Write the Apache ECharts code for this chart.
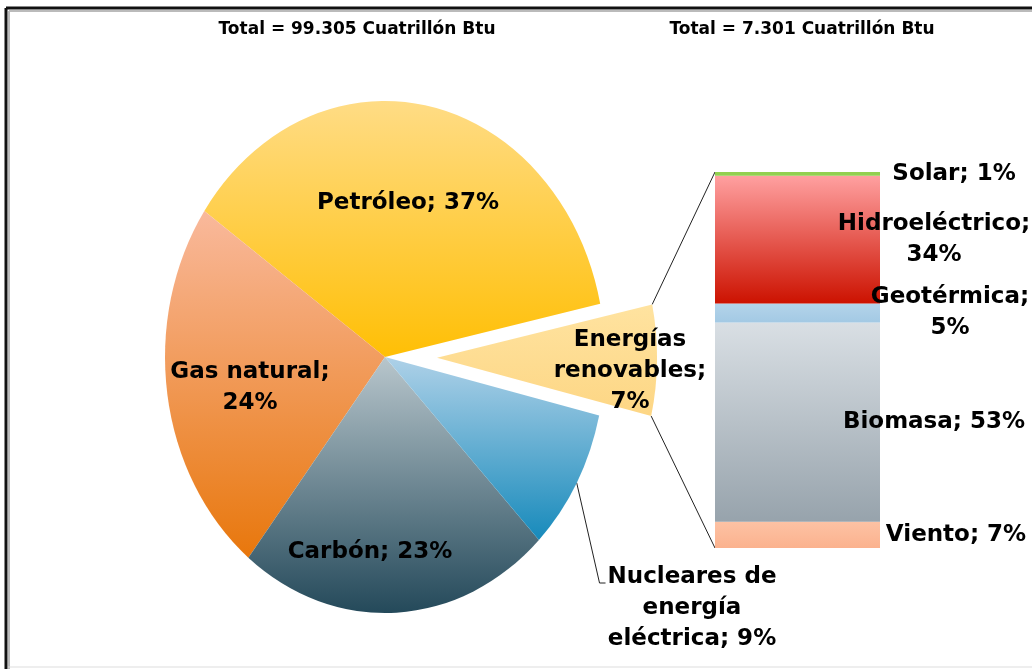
<!DOCTYPE html>
<html><head><meta charset="utf-8">
<script src="https://cdn.jsdelivr.net/npm/echarts@6/dist/echarts.min.js"></script>
<style>html,body{margin:0;padding:0;background:#fff}#c{width:1032px;height:669px}</style>
</head><body><div id="c"></div>
<script>
// ---- data ----
const titles = ['Total = 99.305 Cuatrillón Btu', 'Total = 7.301 Cuatrillón Btu'];
const pieNames = ['Petróleo', 'Gas natural', 'Carbón', 'Nucleares de energía eléctrica', 'Energías renovables'];
const pieValues = [37, 24, 23, 9, 7];
const pieLabels = ['Petróleo; 37%', 'Gas natural;\n24%', 'Carbón; 23%', 'Nucleares de\nenergía\neléctrica; 9%', 'Energías\nrenovables;\n7%'];
const barCategory = ['Energías renovables'];
const barNames = ['Viento', 'Biomasa', 'Geotérmica', 'Hidroeléctrico', 'Solar'];
const barValues = [7, 53, 5, 34, 1];
const barLabels = ['Viento; 7%', 'Biomasa; 53%', 'Geotérmica;\n5%', 'Hidroeléctrico;\n34%', 'Solar; 1%'];

// ---- styles / layout ----
const FONT = 'DejaVu Sans';
function vg(a, b) {
  return { type: 'linear', x: 0, y: 0, x2: 0, y2: 1, colorStops: [{ offset: 0, color: a }, { offset: 1, color: b }] };
}
const PIE_C = [385, 357], PIE_R = 220, PIE_KY = 256 / 220, EXPLODE = 52;
const pieColors = [vg('#FFDC85', '#FFBF05'), vg('#F9B99C', '#E8770C'), vg('#B8C6CC', '#24495A'), vg('#AED1E8', '#178ABB'), vg('#FFE3A0', '#FDD684')];
const pieLabelPos = [[408, 203], [250, 388], [370, 552], [692, 608], null];
const explodedLabelShift = [80, 12];
const barColors = [vg('#FDC2A4', '#FBB28E'), vg('#D9DFE4', '#97A3AC'), vg('#B4D4EA', '#A3C9E4'), vg('#FFA0A0', '#CC1200'), vg('#92D050', '#92D050')];
const barLabelDx = [76, 54, 70, 54, 74];

const labelBase = { color: '#000', fontFamily: FONT, fontWeight: 'bold', fontSize: 23, lineHeight: 31 };

const chart = echarts.init(document.getElementById('c'), null, { renderer: 'canvas' });

const option = {
  animation: false,
  backgroundColor: '#fff',
  title: titles.map((t, i) => ({
    text: t, left: i === 0 ? 357 : 802, top: 21, padding: 0, textAlign: 'center',
    textStyle: { fontFamily: FONT, fontWeight: 'bold', fontSize: 17, color: '#000' }
  })),
  grid: { left: 715, top: 172, width: 165, height: 376 },
  xAxis: { type: 'category', data: barCategory, show: false },
  yAxis: { type: 'value', min: 0, max: 100, show: false },
  graphic: [
    { type: 'line', shape: { x1: 6, y1: 8, x2: 1032, y2: 8 }, style: { stroke: '#111', lineWidth: 3 } },
    { type: 'line', shape: { x1: 6, y1: 8, x2: 6, y2: 669 }, style: { stroke: '#111', lineWidth: 3 } },
    { type: 'line', shape: { x1: 9, y1: 11, x2: 1032, y2: 11 }, style: { stroke: '#bbb', lineWidth: 2 } },
    { type: 'line', shape: { x1: 9, y1: 11, x2: 9, y2: 669 }, style: { stroke: '#bbb', lineWidth: 2 } },
    { type: 'line', shape: { x1: 8, y1: 667, x2: 1032, y2: 667 }, style: { stroke: '#ddd', lineWidth: 1 } }
  ],
  series: [
    {
      type: 'pie', center: PIE_C, radius: PIE_R, startAngle: 12, clockwise: false,
      selectedMode: 'single', selectedOffset: EXPLODE,
      avoidLabelOverlap: false,
      label: Object.assign({ show: true, position: 'inside', formatter: p => pieLabels[p.dataIndex] }, labelBase),
      labelLine: { show: false },
      emphasis: { disabled: true },
      labelLayout: function (p) {
        const s = pieLabelPos[p.dataIndex];
        if (!s) return { dx: explodedLabelShift[0], dy: explodedLabelShift[1] };
        return { x: s[0], y: s[1], align: 'center', verticalAlign: 'middle' };
      },
      data: pieNames.map((n, i) => ({ name: n, value: pieValues[i], selected: i === 4, itemStyle: { color: pieColors[i], borderWidth: 0 } }))
    }
  ].concat(barNames.map((n, i) => ({
    type: 'bar', name: n, stack: 'ren', data: [barValues[i]], barWidth: '100%',
    emphasis: { disabled: true },
    itemStyle: { color: barColors[i] },
    label: Object.assign({ show: true, position: ['100%', '50%'], offset: [barLabelDx[i], 0], align: 'center', verticalAlign: 'middle', formatter: barLabels[i] }, labelBase)
  })))
};
chart.setOption(option);

function sy(y) { return PIE_C[1] + (y - PIE_C[1]) * PIE_KY; }

// connector lines + nuclear leader line, computed from library layouts
function extras() {
  const model = chart.getModel();
  const pd = model.getSeriesByIndex(0).getData();
  const L = pd.getItemLayout(4);
  const mid = (L.startAngle + L.endAngle) / 2;
  const ox = Math.cos(mid) * EXPLODE, oy = Math.sin(mid) * EXPLODE;
  const pA = [L.cx + ox + L.r * Math.cos(L.startAngle), sy(L.cy + oy + L.r * Math.sin(L.startAngle))];
  const pB = [L.cx + ox + L.r * Math.cos(L.endAngle), sy(L.cy + oy + L.r * Math.sin(L.endAngle))];
  const top = pA[1] < pB[1] ? pA : pB, bot = pA[1] < pB[1] ? pB : pA;
  const solar = model.getSeriesByIndex(5).getData().getItemLayout(0);
  const wind = model.getSeriesByIndex(1).getData().getItemLayout(0);
  const bx = Math.min(solar.x, solar.x + solar.width);
  const by0 = Math.min(solar.y, solar.y + solar.height);
  const by1 = Math.max(wind.y, wind.y + wind.height);

  // nuclear leader
  const N = pd.getItemLayout(3);
  const nm = (N.startAngle + N.endAngle) / 2;
  const np = [N.cx + N.r * Math.cos(nm), sy(N.cy + N.r * Math.sin(nm))];
  const ctx = document.createElement('canvas').getContext('2d');
  ctx.font = 'bold 23px "DejaVu Sans"';
  const lines = pieLabels[3].split('\n');
  const w = Math.max.apply(null, lines.map(l => ctx.measureText(l).width));
  const lp = pieLabelPos[3];
  const left = lp[0] - w / 2;
  const firstY = lp[1] - (lines.length - 1) / 2 * 31 + 6;

  const g = option.graphic.concat([
    { type: 'line', shape: { x1: top[0], y1: top[1], x2: bx, y2: by0 }, style: { stroke: '#222', lineWidth: 1 } },
    { type: 'line', shape: { x1: bot[0], y1: bot[1], x2: bx, y2: by1 }, style: { stroke: '#222', lineWidth: 1 } },
    { type: 'polyline', shape: { points: [np, [left - 8, firstY], [left - 2, firstY]] }, style: { stroke: '#222', lineWidth: 1, fill: null } }
  ]);
  chart.setOption({ graphic: g });
}
extras();

// stretch the pie vertically into an ellipse like the original
function ellipse() {
  const sm = chart.getModel().getSeriesByIndex(0);
  const view = chart.getViewOfSeriesModel(sm);
  const grp = view.group;
  grp.originX = PIE_C[0];
  grp.originY = PIE_C[1];
  grp.scaleY = PIE_KY;
  grp.traverse(el => { if (el.markRedraw) el.markRedraw(); });
  grp.markRedraw();
  chart.getZr().refreshImmediately();
}
ellipse();
</script>
</body></html>
